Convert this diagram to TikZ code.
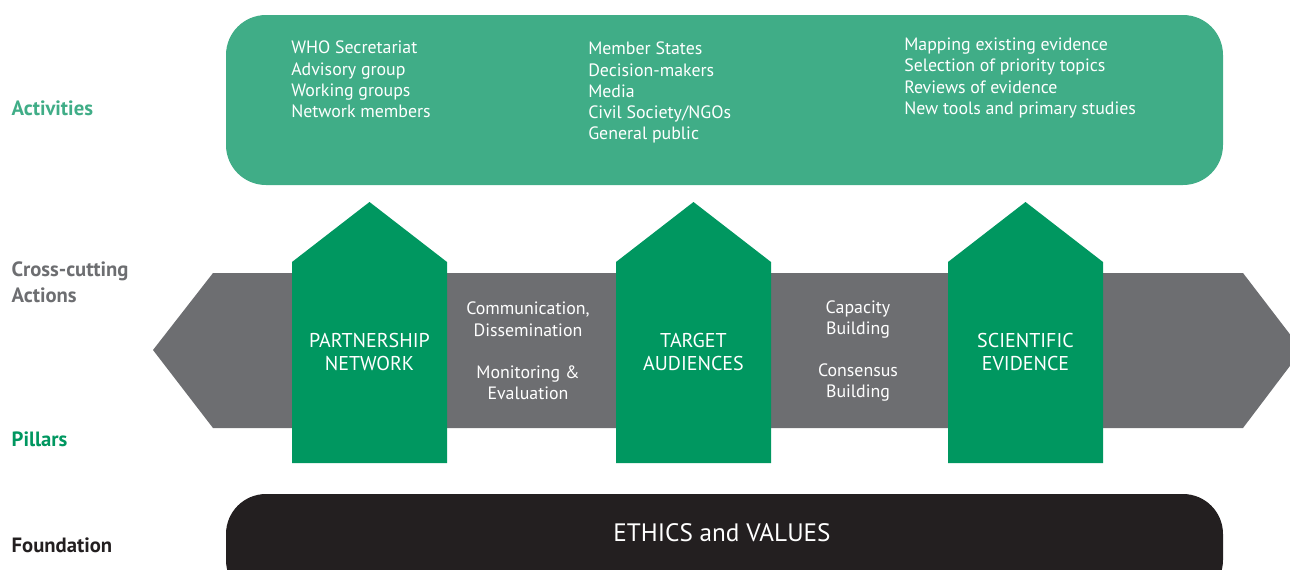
\documentclass[tikz,border=0pt]{standalone}
\usepackage{fontspec}
\setmainfont{PT Sans}
\usetikzlibrary{positioning}
\definecolor{activity}{HTML}{40AD87}
\definecolor{pillar}  {HTML}{009760}
\definecolor{band}    {HTML}{6D6E71}
\definecolor{base}    {HTML}{231F20}

\begin{document}
\begin{tikzpicture}[x=0.75pt,y=-0.75pt,font=\fontsize{13.4}{15.8}\selectfont,
    rowlabel/.style={anchor=west,font=\fontsize{15.5}{19.5}\selectfont\bfseries,align=left},
    itemlist/.style={anchor=north west,text=white,align=left,inner sep=0pt},
    pillartext/.style={text=white,align=center,font=\fontsize{15}{17.5}\selectfont},
    bandtext/.style={text=white,align=center}]
  \useasboundingbox (0,0) rectangle (1290,569);
  \clip (0,0) rectangle (1290,569);

  % row labels on the left
  \node[rowlabel,text=activity] (activities) at (7,108) {Activities};
  \node[rowlabel,text=band]     (actions)    at (7,282) {Cross-cutting\\Actions};
  \node[rowlabel,text=pillar]   (pillars)    at (7,439) {Pillars};
  \node[rowlabel,text=base]     (foundation) at (7,545) {Foundation};

  % activities panel and the lists inside it
  \fill[activity,rounded corners=30] (226,15) rectangle (1223,185);
  \node[itemlist] (whoteam) at (291,41) {WHO Secretariat\\Advisory group\\Working groups\\Network members};
  \node[itemlist] (audience) at (588,42) {Member States\\Decision-makers\\Media\\Civil Society/NGOs\\General public};
  \node[itemlist] (evidence) at (904,38) {Mapping existing evidence\\Selection of priority topics\\Reviews of evidence\\New tools and primary studies};

  % double-headed grey band
  \fill[band] (153,350) -- (213,273) -- (1243,273) -- (1302,350) -- (1243,428) -- (213,428) -- cycle;
  \node[bandtext] (commtext) at (528,351) {Communication,\\Dissemination\\[16pt]Monitoring \&\\Evaluation};
  \node[bandtext] (capatext) at (858,351) {Capacity\\Building\\[16pt]Consensus\\Building};

  % three pillars
  \foreach \px/\name/\label in {292/partner/{PARTNERSHIP\\NETWORK},
                                616/target/{TARGET\\AUDIENCES},
                                948/science/{SCIENTIFIC\\EVIDENCE}}{
    \fill[pillar] (\px,463) -- (\px,262) -- (\px+77.5,202) -- (\px+155,262) -- (\px+155,463) -- cycle;
    \node[pillartext] (\name) at (\px+77.5,352) {\label};}

  % foundation bar
  \fill[base,rounded corners=30] (226,494) rectangle (1223,600);
  \node[text=white,font=\fontsize{18.9}{20}\selectfont] (ethics) at (722,533) {ETHICS and VALUES};
\end{tikzpicture}
\end{document}
